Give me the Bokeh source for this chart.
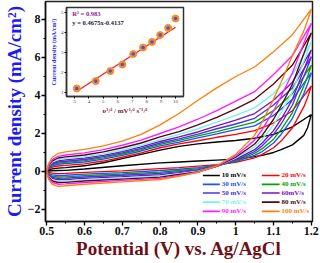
from bokeh.plotting import figure
from bokeh.models import Range1d, LinearAxis, FixedTicker, ColumnDataSource
from bokeh.embed import file_html
from bokeh.resources import INLINE
from bokeh.core.properties import value

SERIF = "Liberation Serif"

# ---------------- data ----------------
scan_labels = ["10 mV/s", "20 mV/s", "30 mV/s", "40 mV/s", "50 mV/s",
               "60mV/s", "70 mV/s", "80 mV/s", "90 mV/s", "100 mV/s"]
colors = ["#000000", "#ff0000", "#1f4fff", "#00a400", "#4b32e6",
          "#7a12c4", "#76f5df", "#4f0a16", "#ff1cff", "#ff7f0e"]

# forward (anodic) sweep potentials (V)
E_anodic = [0.5, 0.505, 0.515, 0.53, 0.55, 0.6, 0.65, 0.7, 0.75, 0.8,
            0.85, 0.9, 0.95, 1.0, 1.05, 1.1, 1.15, 1.2]
# reverse (cathodic) sweep potentials (V)
E_cathodic = [1.2, 1.19, 1.18, 1.15, 1.12, 1.1, 1.07, 1.05, 1.0, 0.95,
              0.9, 0.85, 0.8, 0.7, 0.6, 0.55, 0.53, 0.515, 0.505, 0.5]

# current density (mA/cm2) on the forward sweep, one list per scan rate
j_anodic_10 = [0, 0.07, 0.14, 0.18, 0.2, 0.3, 0.46, 0.68, 0.9, 1.12, 1.32, 1.45, 1.55, 1.63, 1.75, 1.95, 2.35, 3.0]
j_anodic_20 = [0, 0.12, 0.23, 0.29, 0.32, 0.4, 0.55, 0.75, 0.98, 1.25, 1.45, 1.62, 1.8, 1.95, 2.15, 2.55, 3.2, 4.5]
j_anodic_30 = [0, 0.16, 0.3, 0.38, 0.42, 0.5, 0.65, 0.85, 1.08, 1.35, 1.55, 1.77, 1.98, 2.2, 2.4, 2.95, 3.8, 5.2]
j_anodic_40 = [0, 0.19, 0.35, 0.44, 0.48, 0.57, 0.72, 0.92, 1.15, 1.43, 1.64, 1.87, 2.1, 2.35, 2.6, 3.2, 4.1, 5.6]
j_anodic_50 = [0, 0.21, 0.4, 0.5, 0.54, 0.63, 0.78, 0.98, 1.22, 1.5, 1.72, 1.97, 2.25, 2.5, 2.8, 3.5, 4.4, 6.05]
j_anodic_60 = [0, 0.24, 0.44, 0.56, 0.61, 0.7, 0.85, 1.05, 1.3, 1.58, 1.82, 2.08, 2.4, 2.7, 3.05, 3.75, 4.7, 6.4]
j_anodic_70 = [0, 0.27, 0.5, 0.63, 0.69, 0.78, 0.93, 1.13, 1.38, 1.68, 1.95, 2.25, 2.6, 2.95, 3.35, 4.1, 5.1, 6.85]
j_anodic_80 = [0, 0.3, 0.56, 0.71, 0.77, 0.87, 1.03, 1.25, 1.5, 1.82, 2.1, 2.45, 2.85, 3.3, 3.8, 4.6, 5.6, 7.3]
j_anodic_90 = [0, 0.34, 0.63, 0.8, 0.87, 0.98, 1.15, 1.38, 1.65, 2.0, 2.35, 2.75, 3.2, 3.7, 4.2, 5.1, 6.1, 7.8]
j_anodic_100 = [0, 0.4, 0.75, 0.95, 1.03, 1.16, 1.35, 1.6, 1.95, 2.45, 3.05, 3.75, 4.4, 5.0, 5.5, 6.3, 7.2, 8.55]

# current density (mA/cm2) on the reverse sweep
j_cathodic_10 = [3.0, 2.3, 1.9, 1.4, 1.15, 1.0, 0.85, 0.78, 0.65, 0.6, 0.55, 0.5, 0.45, 0.3, 0.13, 0.06, 0.05, 0.04, 0.02, 0]
j_cathodic_20 = [4.5, 3.9, 3.4, 2.3, 1.6, 1.25, 0.9, 0.72, 0.48, 0.36, 0.28, 0.2, 0.15, 0.03, -0.05, -0.1, -0.11, -0.09, -0.05, 0]
j_cathodic_30 = [5.2, 4.6, 4.1, 2.8, 1.95, 1.5, 1.05, 0.85, 0.52, 0.32, 0.2, 0.12, 0.05, -0.06, -0.14, -0.2, -0.21, -0.18, -0.1, 0]
j_cathodic_40 = [5.6, 5.0, 4.5, 3.1, 2.2, 1.7, 1.2, 0.95, 0.55, 0.3, 0.15, 0.05, -0.03, -0.13, -0.22, -0.28, -0.29, -0.25, -0.14, 0]
j_cathodic_50 = [6.05, 5.5, 5.0, 3.5, 2.5, 1.95, 1.35, 1.05, 0.6, 0.28, 0.1, -0.01, -0.1, -0.2, -0.29, -0.35, -0.36, -0.31, -0.18, 0]
j_cathodic_60 = [6.4, 5.85, 5.35, 3.8, 2.75, 2.15, 1.5, 1.15, 0.65, 0.27, 0.06, -0.06, -0.17, -0.27, -0.36, -0.42, -0.43, -0.37, -0.21, 0]
j_cathodic_70 = [6.85, 6.3, 5.8, 4.2, 3.1, 2.45, 1.7, 1.3, 0.7, 0.27, 0.02, -0.11, -0.23, -0.34, -0.43, -0.5, -0.51, -0.44, -0.25, 0]
j_cathodic_80 = [7.3, 6.75, 6.2, 4.6, 3.45, 2.75, 1.9, 1.45, 0.75, 0.27, -0.02, -0.16, -0.3, -0.4, -0.5, -0.57, -0.58, -0.5, -0.29, 0]
j_cathodic_90 = [7.8, 7.25, 6.75, 5.2, 3.95, 3.2, 2.2, 1.65, 0.82, 0.28, -0.04, -0.2, -0.36, -0.47, -0.58, -0.65, -0.67, -0.58, -0.33, 0]
j_cathodic_100 = [8.55, 7.95, 7.4, 6.1, 4.7, 3.8, 2.6, 1.9, 0.9, 0.3, -0.05, -0.25, -0.42, -0.55, -0.67, -0.75, -0.78, -0.68, -0.4, 0]

j_anodic = [j_anodic_10, j_anodic_20, j_anodic_30, j_anodic_40, j_anodic_50,
            j_anodic_60, j_anodic_70, j_anodic_80, j_anodic_90, j_anodic_100]
j_cathodic = [j_cathodic_10, j_cathodic_20, j_cathodic_30, j_cathodic_40, j_cathodic_50,
              j_cathodic_60, j_cathodic_70, j_cathodic_80, j_cathodic_90, j_cathodic_100]

x_ticks = [0.5, 0.6, 0.7, 0.8, 0.9, 1.0, 1.1, 1.2]
x_minor = [0.55, 0.65, 0.75, 0.85, 0.95, 1.05, 1.15]
y_ticks = [-2, 0, 2, 4, 6, 8]
y_minor = [-1, 1, 3, 5, 7]

# inset: peak current vs square root of scan rate
inset_sqrt_v = [3.16, 4.47, 5.48, 6.32, 7.07, 7.75, 8.37, 8.94, 9.49, 10.0]
inset_j = [1.2, 1.57, 2.07, 2.4, 2.92, 3.25, 3.53, 3.87, 4.23, 4.7]
fit_slope = 0.4675
fit_intercept = -0.4137
fit_r2 = 0.983
inset_x_ticks = [3, 4, 5, 6, 7, 8, 9, 10]
inset_y_ticks = [1, 2, 3, 4, 5]

# ---------------- figure ----------------
p = figure(frame_width=267, frame_height=220,
           min_border_left=38, min_border_right=7, min_border_top=1, min_border_bottom=41,
           x_range=Range1d(0.497, 1.203), y_range=Range1d(-2.632, 8.947),
           output_backend="svg", toolbar_location=None)
p.background_fill_color = "white"
p.border_fill_color = "white"
p.xgrid.visible = False
p.ygrid.visible = False
p.outline_line_color = "#222222"
p.outline_line_width = 1.5

for i in range(len(scan_labels)):
    p.line(E_anodic + E_cathodic, j_anodic[i] + j_cathodic[i],
           line_color=colors[i], line_width=1.35)

# custom two-column legend (text coloured like each trace)
leg_row_y = [-0.21, -0.68, -1.13, -1.61, -2.1]
leg_line_x0 = [0.913, 1.069]
leg_line_x1 = [0.958, 1.116]
leg_text_x = [0.963, 1.121]
lx0, lx1, ly, tx = [], [], [], []
for i in range(len(scan_labels)):
    c, r = i % 2, i // 2
    lx0.append(leg_line_x0[c]); lx1.append(leg_line_x1[c])
    ly.append(leg_row_y[r]); tx.append(leg_text_x[c])
leg_src = ColumnDataSource(dict(x0=lx0, x1=lx1, y=ly, tx=tx, text=scan_labels, color=colors))
p.segment(x0="x0", y0="y", x1="x1", y1="y", line_color="color", line_width=1.6, source=leg_src)
p.text(x="tx", y="y", text="text", text_color="color", source=leg_src,
       text_font=value(SERIF), text_font_style="bold", text_font_size="7px",
       text_baseline="middle", text_align="left")

# axes
p.xaxis.ticker = FixedTicker(ticks=x_ticks, minor_ticks=x_minor)
p.yaxis.ticker = FixedTicker(ticks=y_ticks, minor_ticks=y_minor)
for ax in (p.xaxis, p.yaxis):
    ax.major_tick_in = 0
    ax.major_tick_out = 4
    ax.minor_tick_in = 0
    ax.minor_tick_out = 2
    ax.axis_line_width = 1.5
    ax.axis_line_color = "#111111"
    ax.major_tick_line_width = 1.3
    ax.major_label_text_font = SERIF
    ax.major_label_text_font_style = "bold"
    ax.major_label_text_font_size = "12px"
    ax.major_label_text_color = "#111111"
    ax.major_label_standoff = 1
    ax.axis_label_text_font = SERIF
    ax.axis_label_text_font_style = "bold"
    ax.axis_label_standoff = 0
p.xaxis.axis_label = "Potential (V) vs. Ag/AgCl"
p.xaxis.axis_label_text_font_size = "19px"
p.xaxis.axis_label_text_color = "#6e1018"
p.yaxis.axis_label = "Current density (mA/cm²)"
p.yaxis.axis_label_text_font_size = "19px"
p.yaxis.axis_label_text_color = "#1c1cf0"

# ---------------- inset (own ranges, drawn inside the frame) ----------------
p.extra_x_ranges = {"ix": Range1d(0.99, 19.494)}
p.extra_y_ranges = {"iy": Range1d(-5.45, 5.55)}
inset_left, inset_right, inset_bottom, inset_top = 2.446, 10.554, 0.8, 5.25

p.quad(left=[inset_left], right=[inset_right], bottom=[inset_bottom], top=[inset_top],
       fill_color="white", line_color="#333333", line_width=1.5,
       x_range_name="ix", y_range_name="iy")

fit_x = [inset_sqrt_v[0], inset_sqrt_v[-1]]
fit_y = [fit_slope * v + fit_intercept for v in fit_x]
p.line(fit_x, fit_y, line_color="#ff1a1a", line_width=1.3, x_range_name="ix", y_range_name="iy")
p.scatter(inset_sqrt_v, inset_j, size=7, fill_color="#ff8a1c", line_color="#ff8a1c",
          x_range_name="ix", y_range_name="iy")
p.scatter(inset_sqrt_v, inset_j, size=3.5, fill_color="#3355ff", line_color=None,
          x_range_name="ix", y_range_name="iy")

p.text(x=[2.85], y=[4.95], text=[f"R² = {fit_r2}"], text_color="#8a1a9a",
       text_font=value(SERIF), text_font_style="bold", text_font_size="6.5px",
       text_baseline="middle", x_range_name="ix", y_range_name="iy")
p.text(x=[2.85], y=[4.52], text=[f"y = {fit_slope}x{fit_intercept}"], text_color="#1a1a40",
       text_font=value(SERIF), text_font_style="bold", text_font_size="6.5px",
       text_baseline="middle", x_range_name="ix", y_range_name="iy")

ix_axis = LinearAxis(x_range_name="ix", y_range_name="iy", fixed_location=inset_bottom,
                     bounds=(inset_left, inset_right),
                     ticker=FixedTicker(ticks=inset_x_ticks, minor_ticks=[]))
iy_axis = LinearAxis(x_range_name="ix", y_range_name="iy", fixed_location=inset_left,
                     bounds=(inset_bottom, inset_top),
                     ticker=FixedTicker(ticks=inset_y_ticks, minor_ticks=[]))
for ax in (ix_axis, iy_axis):
    ax.axis_line_color = "#333333"
    ax.axis_line_width = 1.5
    ax.major_tick_in = 0
    ax.major_tick_out = 2
    ax.minor_tick_out = 0
    ax.minor_tick_in = 0
    ax.major_label_text_font = SERIF
    ax.major_label_text_font_size = "5px"
    ax.major_label_standoff = 1
    ax.axis_label_text_font = SERIF
    ax.axis_label_text_font_style = "bold"
    ax.axis_label_standoff = 1
ix_axis.axis_label = "υ¹/² / mV¹/² s⁻¹/²"
ix_axis.axis_label_text_font_size = "7px"
ix_axis.axis_label_text_color = "#7a1a3a"
iy_axis.axis_label = "Current density (mA/cm²)"
iy_axis.axis_label_text_font_size = "6px"
iy_axis.axis_label_text_color = "#2a2af0"
p.add_layout(ix_axis, "below")
p.add_layout(iy_axis, "left")

open("out.html", "w").write(file_html(p, INLINE))
